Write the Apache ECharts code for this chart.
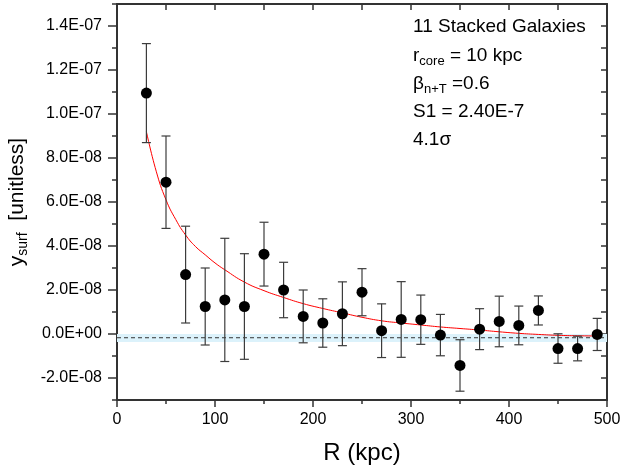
<!DOCTYPE html>
<html>
<head>
<meta charset="utf-8">
<script src="https://cdn.jsdelivr.net/npm/echarts@6/dist/echarts.min.js"></script>
<style>
  html, body { margin: 0; padding: 0; background: #fff; }
  #chart { width: 622px; height: 472px; }
</style>
</head>
<body>
<div id="chart"></div>
<script>
  // stacked profile points
  const radius = [30, 50, 70, 90, 110, 130, 150, 170, 190, 210, 230, 250,
                  270, 290, 310, 330, 350, 370, 390, 410, 430, 450, 470, 490];
  const ySurf = [10.95e-8, 6.9e-8, 2.7e-8, 1.25e-8, 1.55e-8, 1.25e-8, 3.63e-8, 2.0e-8,
                 0.8e-8, 0.5e-8, 0.92e-8, 1.9e-8, 0.15e-8, 0.66e-8, 0.65e-8, -0.05e-8,
                 -1.43e-8, 0.22e-8, 0.57e-8, 0.39e-8, 1.07e-8, -0.66e-8, -0.66e-8, -0.02e-8];
  const ySurfErr = [2.25e-8, 2.1e-8, 2.2e-8, 1.75e-8, 2.8e-8, 2.4e-8, 1.45e-8, 1.26e-8,
                    1.2e-8, 1.1e-8, 1.45e-8, 1.07e-8, 1.22e-8, 1.72e-8, 1.12e-8, 0.94e-8,
                    1.17e-8, 0.93e-8, 1.15e-8, 0.88e-8, 0.66e-8, 0.67e-8, 0.56e-8, 0.73e-8];

  // fitted model curve (red)
  const modelR = [30, 40, 50, 60, 70, 80, 90, 100, 110, 130, 150, 170, 190, 210,
                  230, 250, 270, 290, 310, 330, 350, 370, 390, 410, 430, 450, 470, 490];
  const modelY = [9.2e-8, 7.4e-8, 6.1e-8, 5.2e-8, 4.5e-8, 3.98e-8, 3.6e-8, 3.23e-8, 2.92e-8,
                  2.36e-8, 1.97e-8, 1.66e-8, 1.38e-8, 1.16e-8, 0.96e-8, 0.76e-8, 0.6e-8,
                  0.5e-8, 0.41e-8, 0.32e-8, 0.25e-8, 0.18e-8, 0.1e-8, 0.03e-8, -0.02e-8,
                  -0.06e-8, -0.08e-8, -0.09e-8];

  // background level and its band
  const bgLevel = -0.17e-8;
  const bgBand = [-0.36e-8, 0];

  const yTicks = [-2e-8, 0, 2e-8, 4e-8, 6e-8, 8e-8, 1e-7, 1.2e-7, 1.4e-7];

  const FONT = 'Liberation Sans, Arial, sans-serif';
  const AXIS_COLOR = '#333';

  function sci(v) {
    if (Math.abs(v) < 1e-20) v = 0;
    const parts = v.toExponential(1).split('e');
    const exp = parts[1];
    return parts[0] + 'E' + exp[0] + exp.slice(1).padStart(2, '0');
  }

  const chart = echarts.init(document.getElementById('chart'));

  const axisLine = {show: true, onZero: false, lineStyle: {color: AXIS_COLOR, width: 2}};
  const tickStyle = {color: AXIS_COLOR, width: 1.5};
  const subRich = {
    m: {fontSize: 19, fontFamily: FONT, fill: '#000', lineHeight: 24},
    s: {fontSize: 13, fontFamily: FONT, fill: '#000', lineHeight: 10, verticalAlign: 'bottom'}
  };

  chart.setOption({
    animation: false,
    backgroundColor: '#fff',
    grid: {left: 117, right: 15, top: 4, bottom: 72, outerBoundsMode: 'none'},

    xAxis: [{
      type: 'value',
      position: 'bottom',
      min: 0,
      max: 500,
      interval: 100,
      axisLine: axisLine,
      axisTick: {inside: false, length: 7, lineStyle: tickStyle},
      minorTick: {show: true, splitNumber: 2, length: 4, lineStyle: tickStyle},
      splitLine: {show: false},
      axisLabel: {fontSize: 16, color: '#000', fontFamily: FONT, margin: 12},
      name: 'R (kpc)',
      nameLocation: 'middle',
      nameGap: 41,
      nameTextStyle: {fontSize: 24, color: '#000', fontFamily: FONT}
    }, {
      type: 'value',
      position: 'top',
      min: 0,
      max: 500,
      interval: 50,
      axisLine: axisLine,
      axisTick: {inside: true, length: 6, lineStyle: tickStyle},
      axisLabel: {show: false},
      splitLine: {show: false}
    }],

    yAxis: [{
      type: 'value',
      position: 'left',
      min: -3e-8,
      max: 1.5e-7,
      interval: 1e-8,
      axisLine: axisLine,
      axisTick: {inside: false, length: 9, lineStyle: tickStyle, customValues: yTicks},
      axisLabel: {
        fontSize: 16, color: '#000', fontFamily: FONT, margin: 15,
        customValues: yTicks,
        formatter: sci
      },
      splitLine: {show: false},
      name: '{m|y}{s|surf}{m|  [unitless]}',
      nameLocation: 'middle',
      nameRotate: 90,
      nameGap: 74,
      nameTextStyle: {
        fontFamily: FONT,
        rich: {
          m: {fontSize: 21, color: '#000', fontFamily: FONT, lineHeight: 26},
          s: {fontSize: 14, color: '#000', fontFamily: FONT, lineHeight: 12, verticalAlign: 'bottom'}
        }
      }
    }, {
      type: 'value',
      position: 'left',
      min: -3e-8,
      max: 1.5e-7,
      interval: 1e-8,
      axisLine: {show: false, onZero: false},
      axisTick: {inside: false, length: 5, lineStyle: tickStyle},
      axisLabel: {show: false},
      splitLine: {show: false}
    }, {
      type: 'value',
      position: 'right',
      min: -3e-8,
      max: 1.5e-7,
      interval: 1e-8,
      axisLine: axisLine,
      axisTick: {inside: true, length: 6, lineStyle: tickStyle},
      axisLabel: {show: false},
      splitLine: {show: false}
    }],

    graphic: [
      {type: 'text', x: 413, y: 27, style: {text: '11 Stacked Galaxies', fontSize: 19, fontFamily: FONT, fill: '#000', verticalAlign: 'middle'}},
      {type: 'text', x: 413, y: 56, style: {text: '{m|r}{s|core}{m| = 10 kpc}', verticalAlign: 'middle', rich: subRich}},
      {type: 'text', x: 413, y: 84, style: {text: '{m|β}{s|n+T}{m| =0.6}', verticalAlign: 'middle', rich: subRich}},
      {type: 'text', x: 413, y: 112, style: {text: 'S1 = 2.40E-7', fontSize: 19, fontFamily: FONT, fill: '#000', verticalAlign: 'middle'}},
      {type: 'text', x: 413, y: 140, style: {text: '4.1σ', fontSize: 19, fontFamily: FONT, fill: '#000', verticalAlign: 'middle'}}
    ],

    series: [{
      // uncertainty band of the background level
      type: 'line',
      data: [],
      z: 1,
      markArea: {
        silent: true,
        itemStyle: {color: '#dcf2fb'},
        data: [[{yAxis: bgBand[0]}, {yAxis: bgBand[1]}]]
      }
    }, {
      // background level
      type: 'line',
      data: [[0, bgLevel], [500, bgLevel]],
      showSymbol: false,
      lineStyle: {color: AXIS_COLOR, type: [4, 3], width: 1},
      z: 2
    }, {
      type: 'line',
      data: modelR.map((r, i) => [r, modelY[i]]),
      smooth: true,
      showSymbol: false,
      lineStyle: {color: '#ff0000', width: 1},
      z: 3
    }, {
      type: 'custom',
      data: radius.map((r, i) => [r, ySurf[i], ySurfErr[i]]),
      z: 4,
      renderItem(params, api) {
        const x = api.value(0);
        const y = api.value(1);
        const e = api.value(2);
        const top = api.coord([x, y + e]);
        const bot = api.coord([x, y - e]);
        const cap = 4.5;
        const style = {stroke: '#3c3c3c', lineWidth: 1.2};
        return {
          type: 'group',
          children: [
            {type: 'line', shape: {x1: top[0], y1: top[1], x2: bot[0], y2: bot[1]}, style},
            {type: 'line', shape: {x1: top[0] - cap, y1: top[1], x2: top[0] + cap, y2: top[1]}, style},
            {type: 'line', shape: {x1: bot[0] - cap, y1: bot[1], x2: bot[0] + cap, y2: bot[1]}, style}
          ]
        };
      }
    }, {
      type: 'scatter',
      data: radius.map((r, i) => [r, ySurf[i]]),
      symbol: 'circle',
      symbolSize: 11,
      itemStyle: {color: '#000', opacity: 1},
      z: 5
    }]
  });
</script>
</body>
</html>
